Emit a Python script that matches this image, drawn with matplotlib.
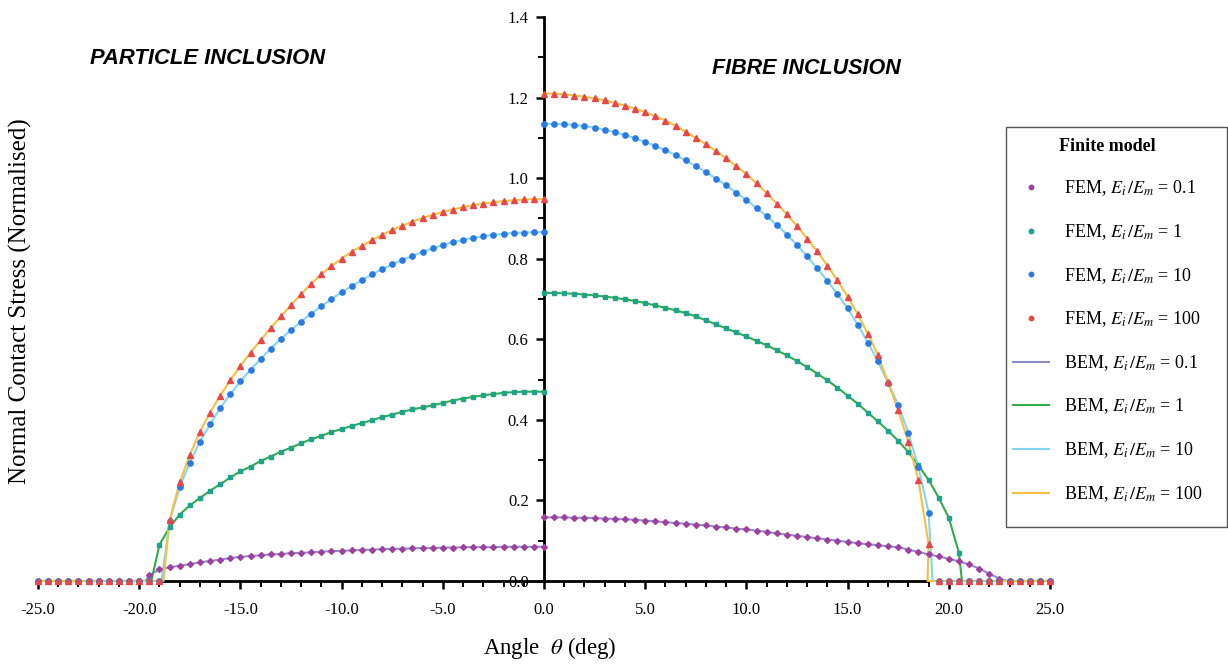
import matplotlib
matplotlib.use("Agg")
import matplotlib.pyplot as plt
from matplotlib.lines import Line2D
from matplotlib.patches import Rectangle
from matplotlib.ticker import MultipleLocator, FormatStrFormatter

plt.rcParams['font.family'] = ['Liberation Serif', 'DejaVu Serif']
plt.rcParams['mathtext.fontset'] = 'stix'
plt.rcParams['axes.unicode_minus'] = False

# Angular positions of the FEM nodes (deg), measured from the pole
angle = [0.0, 0.5, 1.0, 1.5, 2.0, 2.5, 3.0, 3.5, 4.0, 4.5,
         5.0, 5.5, 6.0, 6.5, 7.0, 7.5, 8.0, 8.5, 9.0, 9.5,
         10.0, 10.5, 11.0, 11.5, 12.0, 12.5, 13.0, 13.5, 14.0, 14.5,
         15.0, 15.5, 16.0, 16.5, 17.0, 17.5, 18.0, 18.5, 19.0, 19.5,
         20.0, 20.5, 21.0, 21.5, 22.0, 22.5, 23.0, 23.5, 24.0, 24.5, 25.0]

ratios = ['0.1', '1', '10', '100']

# Particle inclusion (plotted on negative angles)
particle_01 = [0.085, 0.085, 0.085, 0.085, 0.085, 0.084, 0.084, 0.084, 0.084, 0.083,
               0.083, 0.082, 0.082, 0.081, 0.080, 0.080, 0.079, 0.078, 0.077, 0.076,
               0.075, 0.074, 0.073, 0.071, 0.070, 0.069, 0.067, 0.066, 0.064, 0.062,
               0.060, 0.057, 0.053, 0.050, 0.046, 0.042, 0.038, 0.034, 0.029, 0.014,
               0, 0, 0, 0, 0, 0, 0, 0, 0, 0, 0]
particle_1 = [0.470, 0.470, 0.470, 0.469, 0.467, 0.464, 0.461, 0.457, 0.453, 0.448,
              0.442, 0.436, 0.431, 0.426, 0.420, 0.413, 0.407, 0.399, 0.392, 0.385,
              0.377, 0.370, 0.360, 0.352, 0.342, 0.331, 0.321, 0.309, 0.298, 0.284,
              0.272, 0.257, 0.240, 0.224, 0.206, 0.188, 0.165, 0.133, 0.090, 0,
              0, 0, 0, 0, 0, 0, 0, 0, 0, 0, 0]
particle_10 = [0.866, 0.866, 0.865, 0.864, 0.862, 0.859, 0.856, 0.852, 0.847, 0.841,
               0.834, 0.826, 0.817, 0.807, 0.797, 0.786, 0.774, 0.761, 0.747, 0.732,
               0.717, 0.700, 0.682, 0.664, 0.644, 0.623, 0.601, 0.577, 0.551, 0.524,
               0.496, 0.464, 0.429, 0.389, 0.346, 0.294, 0.233, 0.148, 0, 0,
               0, 0, 0, 0, 0, 0, 0, 0, 0, 0, 0]
particle_100 = [0.948, 0.948, 0.947, 0.945, 0.943, 0.940, 0.937, 0.933, 0.928, 0.922,
                0.916, 0.909, 0.901, 0.892, 0.882, 0.871, 0.859, 0.846, 0.832, 0.817,
                0.800, 0.782, 0.762, 0.738, 0.712, 0.685, 0.657, 0.628, 0.598, 0.567,
                0.534, 0.498, 0.460, 0.418, 0.370, 0.313, 0.245, 0.151, 0, 0,
                0, 0, 0, 0, 0, 0, 0, 0, 0, 0, 0]

# Fibre inclusion (plotted on positive angles)
fibre_01 = [0.158, 0.158, 0.158, 0.157, 0.157, 0.156, 0.155, 0.154, 0.153, 0.152,
            0.150, 0.148, 0.146, 0.144, 0.142, 0.140, 0.138, 0.135, 0.133, 0.130,
            0.128, 0.125, 0.122, 0.118, 0.115, 0.112, 0.109, 0.106, 0.103, 0.100,
            0.097, 0.094, 0.091, 0.089, 0.086, 0.084, 0.078, 0.072, 0.066, 0.061,
            0.055, 0.049, 0.041, 0.031, 0.018, 0.006, 0, 0, 0, 0, 0]
fibre_1 = [0.715, 0.715, 0.714, 0.713, 0.711, 0.709, 0.706, 0.703, 0.699, 0.695,
           0.690, 0.684, 0.678, 0.672, 0.665, 0.657, 0.647, 0.637, 0.627, 0.617,
           0.607, 0.596, 0.585, 0.573, 0.560, 0.546, 0.531, 0.515, 0.498, 0.480,
           0.460, 0.440, 0.418, 0.396, 0.373, 0.348, 0.320, 0.287, 0.251, 0.207,
           0.157, 0.070, 0, 0, 0, 0, 0, 0, 0, 0, 0]
fibre_10 = [1.135, 1.135, 1.134, 1.132, 1.129, 1.125, 1.120, 1.114, 1.107, 1.099,
            1.090, 1.080, 1.069, 1.057, 1.044, 1.030, 1.015, 0.999, 0.982, 0.964,
            0.945, 0.926, 0.906, 0.884, 0.860, 0.834, 0.806, 0.776, 0.745, 0.712,
            0.677, 0.636, 0.592, 0.545, 0.492, 0.437, 0.368, 0.282, 0.170, 0,
            0, 0, 0, 0, 0, 0, 0, 0, 0, 0, 0]
fibre_100 = [1.210, 1.210, 1.208, 1.205, 1.202, 1.198, 1.193, 1.187, 1.180, 1.172,
             1.164, 1.154, 1.143, 1.130, 1.115, 1.100, 1.084, 1.067, 1.049, 1.030,
             1.010, 0.987, 0.963, 0.937, 0.910, 0.881, 0.850, 0.818, 0.783, 0.746,
             0.706, 0.662, 0.614, 0.561, 0.493, 0.424, 0.345, 0.250, 0.092, 0,
             0, 0, 0, 0, 0, 0, 0, 0, 0, 0, 0]

# Edge of contact found by the BEM runs (deg)
particle_edge = [19.7, 19.4, 18.9, 18.8]
fibre_edge = [22.9, 20.65, 19.2, 18.95]

fem_colors = ['#a0409c', '#1fa38c', '#2a7ae2', '#e8474a']
bem_colors = ['#8c8cd0', '#2fae4c', '#84d6f2', '#f4c040']
fem_markers = ['D', 's', 'o', '^']
fem_sizes = [3.0, 3.2, 3.8, 4.2]

particle = [particle_01, particle_1, particle_10, particle_100]
fibre = [fibre_01, fibre_1, fibre_10, fibre_100]


def bem_curve(values, edge, sign):
    xs = [sign * a for a, v in zip(angle, values) if v > 0]
    ys = [v for v in values if v > 0]
    xs += [sign * edge, sign * angle[-1]]
    ys += [0, 0]
    return xs, ys


fig = plt.figure(figsize=(12.28, 6.65), dpi=100)
ax = fig.add_axes([38 / 1228, 1 - 581 / 665, 1012 / 1228, 564 / 665])

# BEM solutions as lines
for i in range(4):
    for vals, edge, sign in [(particle[i], particle_edge[i], -1),
                             (fibre[i], fibre_edge[i], 1)]:
        xs, ys = bem_curve(vals, edge, sign)
        ax.plot(xs, ys, color=bem_colors[i], lw=1.5, zorder=3, clip_on=False)

# FEM nodal values as markers
for i in range(4):
    ax.plot([-a for a in angle], particle[i], ls='none', marker=fem_markers[i],
            ms=fem_sizes[i], color=fem_colors[i], mec=fem_colors[i],
            zorder=4, clip_on=False)
    ax.plot(angle, fibre[i], ls='none', marker=fem_markers[i],
            ms=fem_sizes[i], color=fem_colors[i], mec=fem_colors[i],
            zorder=4, clip_on=False)

ax.set_xlim(-25, 25)
ax.set_ylim(0, 1.4)
ax.spines['left'].set_position(('data', 0))
ax.spines['bottom'].set_position(('data', 0))
ax.spines['bottom'].set_bounds(-18.8, 18.95)
ax.spines['top'].set_visible(False)
ax.spines['right'].set_visible(False)
for s in ['left', 'bottom']:
    ax.spines[s].set_linewidth(2.0)

ax.xaxis.set_major_locator(MultipleLocator(5))
ax.xaxis.set_minor_locator(MultipleLocator(1))
ax.yaxis.set_major_locator(MultipleLocator(0.2))
ax.yaxis.set_minor_locator(MultipleLocator(0.1))
ax.xaxis.set_major_formatter(FormatStrFormatter('%.1f'))
ax.yaxis.set_major_formatter(FormatStrFormatter('%.1f'))
ax.tick_params(axis='both', which='major', direction='out', length=6, width=1.8,
               labelsize=12)
ax.tick_params(axis='both', which='minor', direction='out', length=4, width=1.4)
ax.tick_params(axis='x', which='major', pad=9)
ax.tick_params(axis='y', which='major', pad=5)

ax.text(-16.6, 1.298, 'PARTICLE INCLUSION', family='Liberation Sans',
        weight='bold', style='italic', fontsize=15.8, ha='center', va='center')
ax.text(12.94, 1.273, 'FIBRE INCLUSION', family='Liberation Sans',
        weight='bold', style='italic', fontsize=15.5, ha='center', va='center')

fig.text(550 / 1228, 1 - 648 / 665, r'Angle  $\theta$ (deg)', fontsize=16.5,
         ha='center', va='center')
fig.text(20 / 1228, 1 - 301 / 665, 'Normal Contact Stress (Normalised)',
         fontsize=18, rotation=90, ha='center', va='center')

# Legend with a square frame
fig.patches.append(Rectangle((1006 / 1228, 1 - 527 / 665), 221 / 1228, 400 / 665,
                             transform=fig.transFigure, fill=False,
                             edgecolor='#555555', lw=1.0))
handles = []
labels = []
for i, r in enumerate(ratios):
    handles.append(Line2D([], [], ls='none', marker='o', ms=3.2,
                          color=fem_colors[i]))
    labels.append(r'FEM, $E_i\,/E_m$ = ' + r)
for i, r in enumerate(ratios):
    handles.append(Line2D([], [], color=bem_colors[i], lw=1.5))
    labels.append(r'BEM, $E_i\,/E_m$ = ' + r)
leg = fig.legend(handles, labels, loc='upper left',
                 bbox_to_anchor=(990 / 1228, 1 - 115 / 665),
                 frameon=False, fontsize=13, title='Finite model',
                 title_fontproperties={'weight': 'bold', 'size': 13},
                 labelspacing=1.32, handlelength=2.0, handletextpad=0.85,
                 borderpad=0.75)

fig.savefig('out.png', dpi=100)
